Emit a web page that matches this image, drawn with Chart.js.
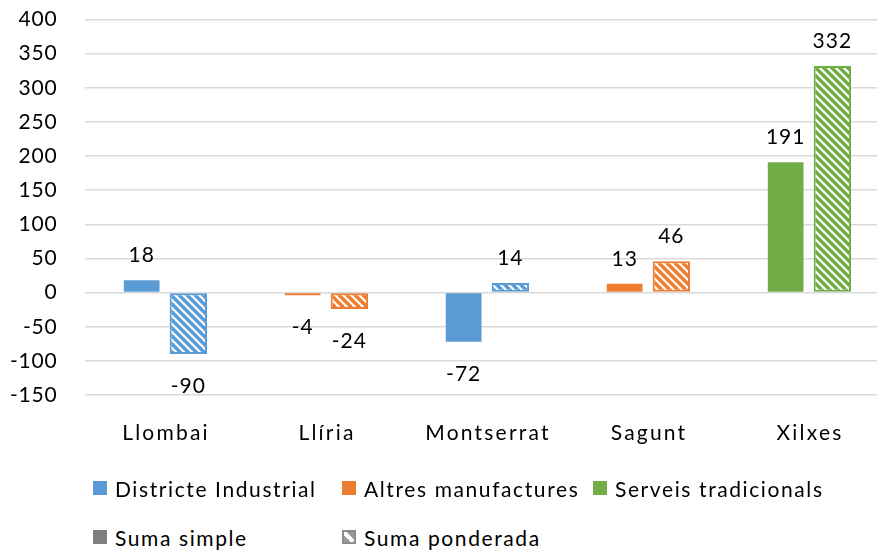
<!DOCTYPE html>
<html>
<head>
<meta charset="utf-8">
<script src="https://cdn.jsdelivr.net/npm/chart.js@4.4.1/dist/chart.umd.min.js"></script>
<style>
  html, body { margin: 0; padding: 0; background: #fff; overflow: hidden; }
  #wrap { position: relative; width: 877px; height: 550px; overflow: hidden; }
  #chart { position: absolute; left: 0; top: -20px; }
  .item { position: absolute; display: flex; align-items: center; white-space: nowrap;
          font-family: Lato, sans-serif; font-size: 21px; letter-spacing: 1.6px; color: #000; height: 26px; }
  .box { width: 14px; height: 14px; margin-right: 8px; box-sizing: border-box; }
</style>
</head>
<body>
<div id="wrap">
  <canvas id="chart" width="892" height="500"></canvas>
  <div id="legend"></div>
</div>
<script>
const categories = ['Llombai', 'Llíria', 'Montserrat', 'Sagunt', 'Xilxes'];
const sumaSimple = [18, -4, -72, 13, 191];
const sumaPonderada = [-90, -24, 14, 46, 332];
// sector each municipality belongs to (sets the bar colour)
const categorySector = ['Districte Industrial', 'Altres manufactures', 'Districte Industrial',
                        'Altres manufactures', 'Serveis tradicionals'];
const sectors = ['Districte Industrial', 'Altres manufactures', 'Serveis tradicionals'];
const sectorColors = ['#5B9BD5', '#ED7D31', '#70AD47'];
const seriesNames = ['Suma simple', 'Suma ponderada'];
const yMin = -150, yMax = 400, yStep = 50;

const FONT = 'Lato, sans-serif';

function colorOf(i) {
  return sectorColors[sectors.indexOf(categorySector[i])];
}

// diagonal stripes for the weighted series
function hatch(color) {
  const c = document.createElement('canvas');
  c.width = 8; c.height = 8;
  const g = c.getContext('2d');
  g.fillStyle = '#fff';
  g.fillRect(0, 0, 8, 8);
  g.strokeStyle = color;
  g.lineWidth = 3.5;
  for (const k of [-8, 0, 8]) {
    g.beginPath();
    g.moveTo(k - 2, -2);
    g.lineTo(k + 10, 10);
    g.stroke();
  }
  return g.createPattern(c, 'repeat');
}

const solidColors = categories.map((_, i) => colorOf(i));
const hatchFills = categories.map((_, i) => hatch(colorOf(i)));

// a bit of tracking for the tick text drawn by the scales
const tracking = {
  id: 'tracking',
  beforeDraw(chart) { chart.ctx.letterSpacing = '0.8px'; }
};

// category names under the axis, drawn at the x scale's tick positions
const categoryLabels = {
  id: 'categoryLabels',
  afterDraw(chart) {
    const ctx = chart.ctx, xs = chart.scales.x;
    ctx.save();
    ctx.font = '21px ' + FONT;
    ctx.letterSpacing = '2.2px';
    ctx.fillStyle = '#000';
    ctx.textAlign = 'center';
    ctx.textBaseline = 'alphabetic';
    categories.forEach((c, i) => ctx.fillText(c, xs.getPixelForTick(i) + 1, chart.chartArea.bottom + 45));
    ctx.restore();
  }
};

const valueLabels = {
  id: 'valueLabels',
  afterDatasetsDraw(chart) {
    const ctx = chart.ctx;
    ctx.save();
    ctx.font = '21px ' + FONT;
    ctx.letterSpacing = '1px';
    ctx.fillStyle = '#000';
    ctx.textAlign = 'center';
    ctx.textBaseline = 'alphabetic';
    chart.data.datasets.forEach((ds, i) => {
      chart.getDatasetMeta(i).data.forEach((bar, j) => {
        const v = ds.data[j];
        const y = v >= 0 ? bar.y - 18 : bar.y + 39;
        ctx.fillText(String(v), bar.x, y);
      });
    });
    ctx.restore();
  }
};

new Chart(document.getElementById('chart').getContext('2d'), {
  type: 'bar',
  data: {
    labels: categories,
    datasets: [{
      label: seriesNames[0],
      data: sumaSimple,
      backgroundColor: solidColors,
      borderWidth: 0,
      barPercentage: 0.765,
      categoryPercentage: 0.58
    }, {
      label: seriesNames[1],
      data: sumaPonderada,
      backgroundColor: hatchFills,
      borderColor: solidColors,
      borderWidth: 2,
      borderSkipped: false,
      barPercentage: 0.8,
      categoryPercentage: 0.58
    }]
  },
  options: {
    responsive: false,
    animation: false,
    layout: { padding: { top: 8, right: 2.5, bottom: 5, left: 0 } },
    scales: {
      x: {
        grid: { display: false, drawTicks: false },
        border: { display: false },
        ticks: { display: false },
        afterFit(scale) { scale.height = 80; }
      },
      y: {
        min: yMin,
        max: yMax,
        grid: { color: '#d9d9d9', lineWidth: 1.5, drawTicks: false },
        border: { display: false },
        ticks: { stepSize: yStep, color: '#000', font: { family: FONT, size: 21 }, padding: 27 },
        afterFit(scale) { scale.width = 84.5; }
      }
    },
    plugins: {
      legend: { display: false },
      tooltip: { enabled: false }
    }
  },
  plugins: [tracking, valueLabels, categoryLabels]
});

// legend: sectors on the first row, series on the second
const legend = document.getElementById('legend');
const colX = [93, 342, 593];
function addItem(x, yc, boxStyle, text) {
  const el = document.createElement('div');
  el.className = 'item';
  el.style.left = x + 'px';
  el.style.top = (yc - 13) + 'px';
  const b = document.createElement('span');
  b.className = 'box';
  Object.assign(b.style, boxStyle);
  const t = document.createElement('span');
  t.textContent = text;
  el.appendChild(b);
  el.appendChild(t);
  legend.appendChild(el);
}
sectors.forEach((s, i) => addItem(colX[i], 488, { background: sectorColors[i] }, s));
addItem(colX[0], 537, { background: '#7f7f7f' }, seriesNames[0]);
addItem(colX[1], 537, {
  border: '2px solid #8c8c8c',
  background: 'linear-gradient(45deg, #9a9a9a 0 35%, #fff 35% 65%, #9a9a9a 65%)'
}, seriesNames[1]);
</script>
</body>
</html>
